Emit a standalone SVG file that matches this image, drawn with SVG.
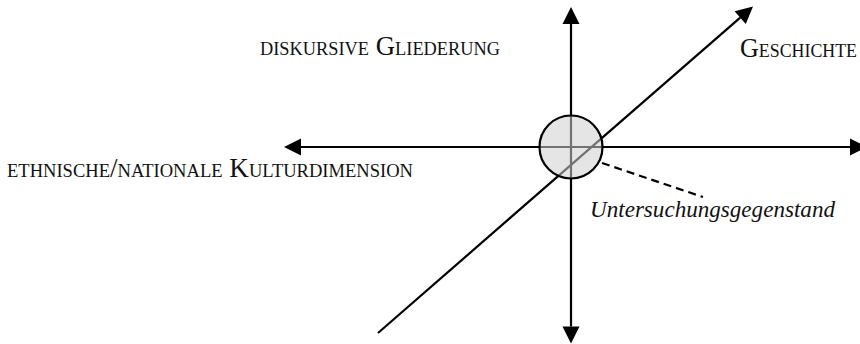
<svg xmlns="http://www.w3.org/2000/svg" width="860" height="344" viewBox="0 0 860 344">
<defs>
<style>
.ax{stroke:#000;stroke-width:2.2;fill:none}
.sc{font-family:"Liberation Serif","Times New Roman",serif;font-variant:small-caps;font-size:26.3px;fill:#111}
.it{font-family:"Liberation Serif","Times New Roman",serif;font-style:italic;font-size:23px;fill:#111}
</style>
<marker id="ah" markerUnits="userSpaceOnUse" markerWidth="18" markerHeight="17" refX="0" refY="8.5" orient="auto-start-reverse" overflow="visible">
<path d="M0,0 L17,8.5 L0,17 z" fill="#000"/>
</marker>
</defs>
<g id="connectors">
<line class="ax" x1="571" y1="326.5" x2="571" y2="24" marker-start="url(#ah)" marker-end="url(#ah)"/>
<line class="ax" x1="301" y1="147" x2="850" y2="147" marker-start="url(#ah)" marker-end="url(#ah)"/>
<line class="ax" x1="378" y1="333" x2="740.2" y2="17.6" marker-end="url(#ah)"/>
<line class="ax" x1="602" y1="163" x2="703" y2="197" stroke-dasharray="8,5"/>
</g>
<g id="center">
<circle cx="571" cy="147" r="31.5" fill="#cfcfcf" fill-opacity="0.55" stroke="#000" stroke-width="2.2"/>
</g>
<g id="label-diskursiv"><text class="sc" x="260" y="55" textLength="240" lengthAdjust="spacingAndGlyphs">diskursive Gliederung</text></g>
<g id="label-geschichte"><text class="sc" x="740" y="57" textLength="117" lengthAdjust="spacingAndGlyphs">Geschichte</text></g>
<g id="label-ethnisch"><text class="sc" x="7" y="177" textLength="406" lengthAdjust="spacingAndGlyphs">ethnische/nationale Kulturdimension</text></g>
<g id="label-untersuchung"><text class="it" x="590" y="217" textLength="245" lengthAdjust="spacingAndGlyphs">Untersuchungsgegenstand</text></g>
</svg>
